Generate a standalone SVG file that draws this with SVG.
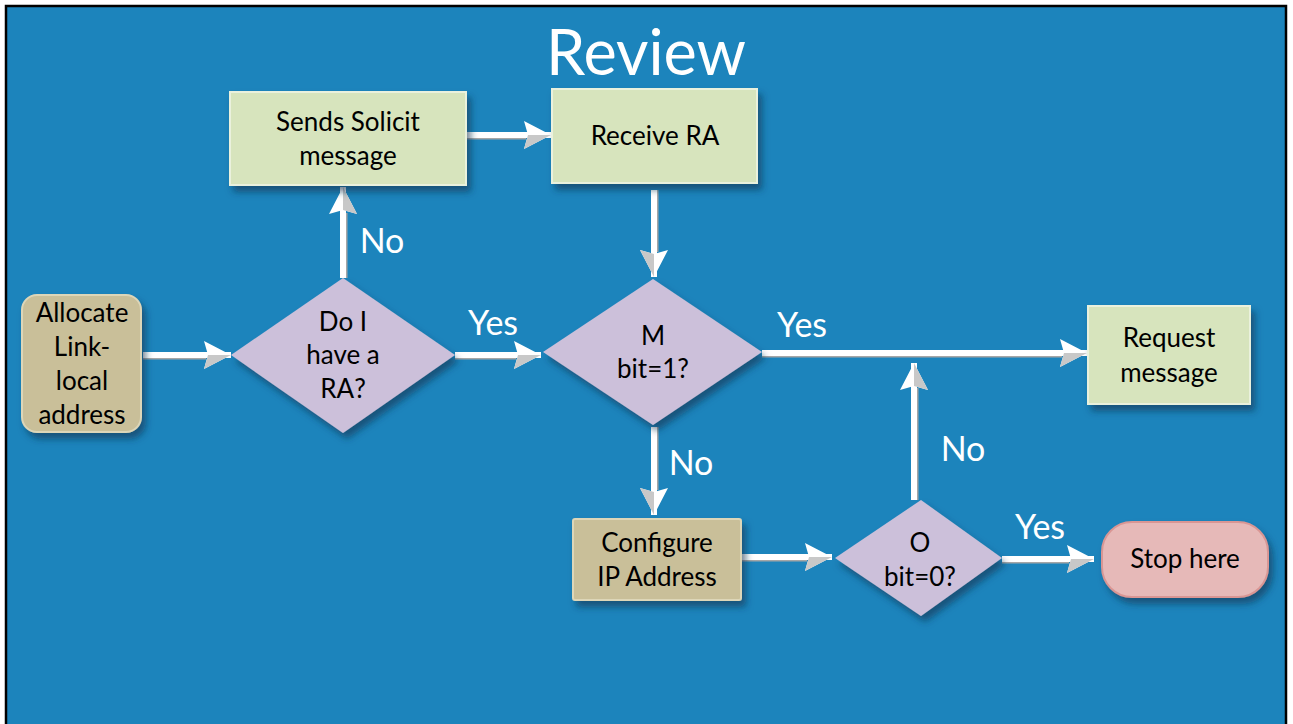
<svg xmlns="http://www.w3.org/2000/svg" width="1293" height="724" viewBox="0 0 1293 724">
<style>
.t{font-family:Lato,"Liberation Sans",sans-serif;font-size:26px;fill:#000;text-anchor:middle}
.l{font-family:Lato,"Liberation Sans",sans-serif;font-size:34px;fill:#fff;text-anchor:middle}
.title{font-family:Lato,"Liberation Sans",sans-serif;font-size:63px;fill:#fff;text-anchor:middle}
.green{fill:#D7E4BD;stroke:#EAF1DD;stroke-width:2}
.tan{fill:#C9BF99;stroke:#DDD6B8;stroke-width:2}
.dia{fill:#CCC0DA}
.stop{fill:#E6B9B8;stroke:#D99694;stroke-width:2}
.shaft{stroke:#fff;stroke-width:6;fill:none}
.shade{stroke:#A6A6A6;stroke-width:3;fill:none}
</style>
<defs>
<filter id="sh" x="-20%" y="-20%" width="150%" height="150%">
<feDropShadow dx="4" dy="6" stdDeviation="3.5" flood-color="#0A3550" flood-opacity="0.6"/>
</filter>
<marker id="ah" markerUnits="userSpaceOnUse" markerWidth="30" markerHeight="30" refX="27" refY="14" orient="auto" viewBox="0 0 30 30">
<path d="M0,0 L27,14 L0,28 L4,14 Z" fill="#fff"/>
<path d="M4,14 L27,14 L0,28 Z" fill="#C8C8C8"/>
</marker>
</defs>
<rect x="0" y="0" width="1293" height="724" fill="#fff"/>
<rect x="6" y="6" width="1280" height="730" fill="#1C84BC" stroke="#000" stroke-width="2.5"/>
<text class="title" x="646" y="75">Review</text>

<g id="connectors">
<g id="c1"><line class="shade" x1="143" y1="358" x2="206" y2="358"/><line class="shaft" x1="143" y1="355" x2="231" y2="355" marker-end="url(#ah)"/></g>
<g id="c2"><line class="shade" x1="455" y1="358" x2="516" y2="358"/><line class="shaft" x1="455" y1="355" x2="541" y2="355" marker-end="url(#ah)"/></g>
<g id="c3"><line class="shade" x1="346" y1="278" x2="346" y2="213"/><line class="shaft" x1="343" y1="278" x2="343" y2="187" marker-end="url(#ah)"/></g>
<g id="c4"><line class="shade" x1="466" y1="138" x2="526" y2="138"/><line class="shaft" x1="466" y1="135" x2="551" y2="135" marker-end="url(#ah)"/></g>
<g id="c5"><line class="shade" x1="657" y1="190" x2="657" y2="252"/><line class="shaft" x1="654" y1="190" x2="654" y2="277" marker-end="url(#ah)"/></g>
<g id="c6"><line class="shade" x1="762" y1="356" x2="1062" y2="356"/><line class="shaft" x1="762" y1="353" x2="1087" y2="353" marker-end="url(#ah)"/></g>
<g id="c7"><line class="shade" x1="657" y1="427" x2="657" y2="490"/><line class="shaft" x1="654" y1="427" x2="654" y2="515" marker-end="url(#ah)"/></g>
<g id="c8"><line class="shade" x1="741" y1="560" x2="807" y2="560"/><line class="shaft" x1="741" y1="557" x2="832" y2="557" marker-end="url(#ah)"/></g>
<g id="c9"><line class="shade" x1="917" y1="500" x2="917" y2="388"/><line class="shaft" x1="914" y1="500" x2="914" y2="363" marker-end="url(#ah)"/></g>
<g id="c10"><line class="shade" x1="1002" y1="562" x2="1069" y2="562"/><line class="shaft" x1="1002" y1="559" x2="1094" y2="559" marker-end="url(#ah)"/></g>
<text class="l" x="382" y="253">No</text>
<text class="l" x="493" y="335">Yes</text>
<text class="l" x="802" y="337">Yes</text>
<text class="l" x="691" y="475">No</text>
<text class="l" x="963" y="461">No</text>
<text class="l" x="1040" y="539">Yes</text>
</g>

<g id="allocate"><rect class="tan" x="22" y="295" width="119" height="137" rx="15" filter="url(#sh)"/>
<text class="t" x="82" y="322">Allocate</text><text class="t" x="82" y="356">Link-</text><text class="t" x="82" y="390">local</text><text class="t" x="82" y="424">address</text></g>

<g id="haveRA"><polygon class="dia" points="231,355 343,278 455,355 343,433" filter="url(#sh)"/>
<text class="t" x="343" y="331">Do I</text><text class="t" x="343" y="364">have a</text><text class="t" x="343" y="398">RA?</text></g>

<g id="solicit"><rect class="green" x="230" y="92" width="236" height="93" filter="url(#sh)"/>
<text class="t" x="348" y="131">Sends Solicit</text><text class="t" x="348" y="165">message</text></g>

<g id="receive"><rect class="green" x="552" y="89" width="205" height="94" filter="url(#sh)"/>
<text class="t" x="655" y="145">Receive RA</text></g>

<g id="mbit"><polygon class="dia" points="543,352 653,279 762,352 653,425" filter="url(#sh)"/>
<text class="t" x="653" y="345">M</text><text class="t" x="653" y="378">bit=1?</text></g>

<g id="request"><rect class="green" x="1088" y="306" width="162" height="98" filter="url(#sh)"/>
<text class="t" x="1169" y="347">Request</text><text class="t" x="1169" y="382">message</text></g>

<g id="configure"><rect class="tan" x="573" y="519" width="168" height="81" rx="2" filter="url(#sh)"/>
<text class="t" x="657" y="552">Configure</text><text class="t" x="657" y="586">IP Address</text></g>

<g id="obit"><polygon class="dia" points="835,558 921,500 1002,558 921,616" filter="url(#sh)"/>
<text class="t" x="920" y="552">O</text><text class="t" x="920" y="586">bit=0?</text></g>

<g id="stop"><rect class="stop" x="1102" y="522" width="166" height="75" rx="30" filter="url(#sh)"/>
<text class="t" x="1185" y="568">Stop here</text></g>
</svg>
